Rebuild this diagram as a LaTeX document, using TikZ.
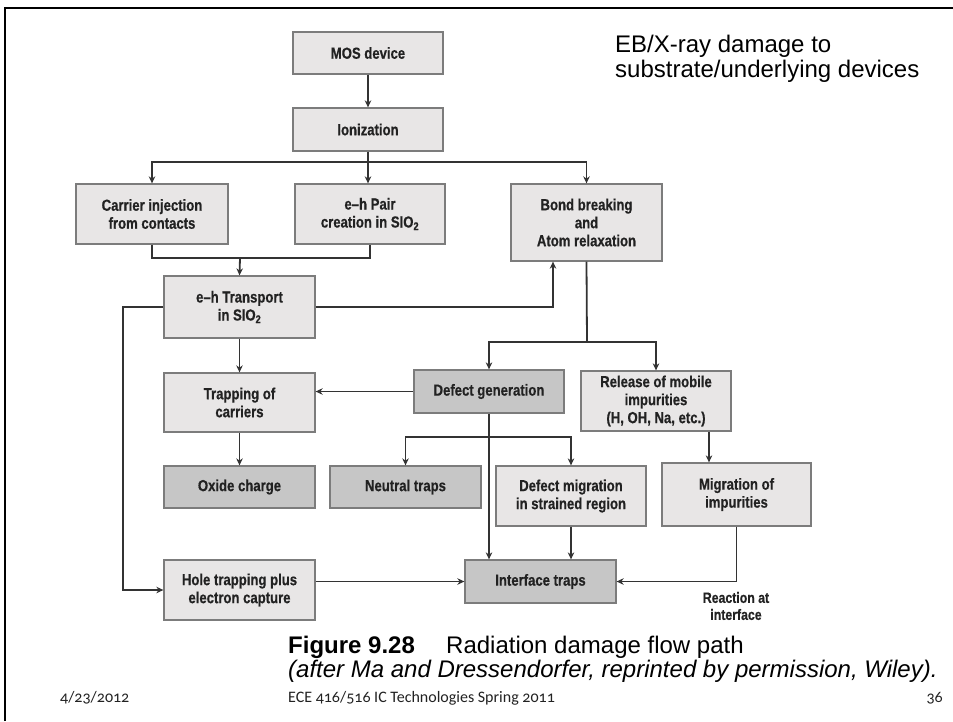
\documentclass[tikz,border=0pt]{standalone}
\usepackage{fontspec}
\setmainfont{Liberation Sans}
\newfontfamily\boxfont[FakeStretch=0.82, BoldFeatures={FakeBold=0.5}]{Liberation Sans}
\newfontfamily\footfont[Numbers=OldStyle]{Carlito}
\usetikzlibrary{arrows.meta}

\definecolor{boxlight}{HTML}{E8E6E6}
\definecolor{boxdark}{HTML}{C6C6C6}
\definecolor{boxline}{HTML}{7C7C7C}
\definecolor{wire}{HTML}{333333}
\definecolor{ink}{HTML}{222222}

\tikzset{
  stage/.style={draw=boxline, line width=1.3pt, fill=boxlight, inner sep=0pt,
    align=center, text=ink, font=\boxfont\bfseries\fontsize{16}{18}\selectfont},
  darkstage/.style={stage, fill=boxdark},
  flow/.style={draw=wire, line width=1.8pt, -{Stealth[length=7pt,width=6.5pt]}},
  wireline/.style={draw=wire, line width=1.8pt},
  slidetext/.style={anchor=base west, inner sep=0pt, text=black},
  foottext/.style={inner sep=0pt, text=ink, font=\footfont\fontsize{16}{18}\selectfont},
}

\begin{document}
\begin{tikzpicture}[x=1pt,y=-1pt]
\useasboundingbox (0,0) rectangle (953,721);
\fill[white] (0,0) rectangle (953,721);
% slide frame
\draw[line width=2.6pt] (5,721) -- (5,8) -- (953,8);

% process boxes
\node[stage, minimum width=150, minimum height=42] (mos)   at (368,53)    {MOS device};
\node[stage, minimum width=150, minimum height=43] (ion)   at (368,129.5) {Ionization};
\node[stage, minimum width=152, minimum height=60] (carr)  at (152,214)   {Carrier injection\\from contacts};
\node[stage, minimum width=150, minimum height=60] (pair)  at (370,214)   {e–h Pair\\creation in SIO\textsubscript{2}};
\node[stage, minimum width=151, minimum height=77] (bond)  at (586.5,222.5) {Bond breaking\\and\\Atom relaxation};
\node[stage, minimum width=151, minimum height=62] (trans) at (239.5,307) {e–h Transport\\in SIO\textsubscript{2}};
\node[stage, minimum width=151, minimum height=59] (trap)  at (239.5,402.5) {Trapping of\\carriers};
\node[darkstage, minimum width=150, minimum height=43] (defg) at (489,391.5) {Defect generation};
\node[stage, minimum width=150, minimum height=60] (rel)   at (656,401)   {Release of mobile\\impurities\\(H, OH, Na, etc.)};
\node[darkstage, minimum width=151, minimum height=42] (oxide) at (239.5,487) {Oxide charge};
\node[darkstage, minimum width=151, minimum height=42] (neut)  at (405.5,487) {Neutral traps};
\node[stage, minimum width=150, minimum height=60] (dmig)  at (571,496)   {Defect migration\\in strained region};
\node[stage, minimum width=149, minimum height=63] (mimp)  at (736.5,494.5) {Migration of\\impurities};
\node[darkstage, minimum width=151, minimum height=43] (iface) at (540.5,581.5) {Interface traps};
\node[stage, minimum width=151, minimum height=60] (hole)  at (239.5,590) {Hole trapping plus\\electron capture};

\node[text=ink, align=center, inner sep=0pt, font=\boxfont\bfseries\fontsize{15}{17}\selectfont]
  (react) at (736,606) {Reaction at\\interface};

% junction points
\coordinate (jion) at (368,162);
\coordinate (jcp)  at (240,258);
\coordinate (jb)   at (587,342);
\coordinate (jd)   at (489,437);
\coordinate (lx)   at (123,307);
\coordinate (bx)   at (553,0);
\coordinate (rx)   at (709,0);

% connectors
\draw[flow] (mos) -- (ion);
\draw[flow] (ion.south) -- (ion.south |- pair.north);
\draw[flow] (jion) -| (carr.north);
\draw[flow] (jion) -| (bond.north);
\draw[wireline] (carr.south) |- (pair.south |- jcp) -- (pair.south);
\draw[flow] (jcp) -- (trans.north);
\draw[flow] (trans.east) -| (bx |- bond.south);
\draw[wireline] (bond.south) -- (jb);
\draw[flow] (jb) -| (defg.north);
\draw[flow] (jb) -| (rel.north);
\draw[flow] (trans) -- (trap);
\draw[flow] (trap) -- (oxide);
\draw[flow] (defg.west) -- (defg.west -| trap.east);
\draw[flow] (defg.south) -- (defg.south |- iface.north);
\draw[flow] (jd) -| (neut.north);
\draw[flow] (jd) -| (dmig.north);
\draw[flow] (dmig.south) -- (dmig.south |- iface.north);
\draw[flow] (rx |- rel.south) -- (rx |- mimp.north);
\draw[flow] (mimp.south) |- (iface.east);
\draw[flow] (hole.east |- iface.west) -- (iface.west);
\draw[flow] (trans.west) -- (lx) |- (hole.west);

% slide texts
\node[slidetext, font=\fontsize{24}{26}\selectfont] (note1) at (615,52) {EB/X-ray damage to};
\node[slidetext, font=\fontsize{24}{26}\selectfont] (note2) at (615,77) {substrate/underlying devices};
\node[slidetext, font=\bfseries\fontsize{24}{26}\selectfont] (cap1) at (288,653) {Figure 9.28};
\node[slidetext, font=\fontsize{24}{26}\selectfont] (cap2) at (446,653) {Radiation damage flow path};
\node[slidetext, font=\itshape\fontsize{24}{26}\selectfont] (cap3) at (288,677)
  {(after Ma and Dressendorfer, reprinted by permission, Wiley).};
\node[foottext, anchor=base west] (date)   at (60,702)  {4/23/2012};
\node[foottext, anchor=base west] (course) at (288,702) {ECE 416/516 IC Technologies Spring 2011};
\node[foottext, anchor=base east] (page)   at (943,702) {36};
\end{tikzpicture}
\end{document}
